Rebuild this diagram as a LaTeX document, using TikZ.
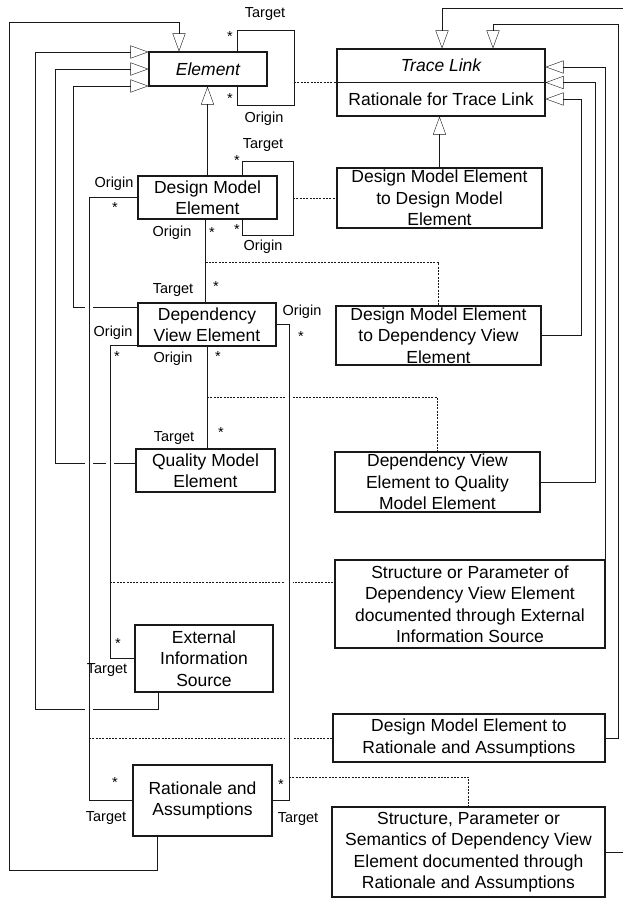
\documentclass[tikz,border=0pt]{standalone}
\usepackage{fontspec}
\setmainfont{Liberation Sans}
\usetikzlibrary{arrows.meta}
\pgfdeclarelayer{bg}
\pgfsetlayers{bg,main}

\begin{document}
\begin{tikzpicture}[x=1pt, y=-1pt,
  line width=1.1pt,
  box/.style={draw=black!90, rectangle, inner sep=0pt, align=center,
    font=\fontsize{17.5pt}{21.5pt}\selectfont},
  lab/.style={inner sep=0pt, font=\fontsize{14.5pt}{16pt}\selectfont},
  mult/.style={inner sep=0pt, anchor=base, font=\fontsize{14.5pt}{16pt}\selectfont},
  gen/.style={draw=black!90, -{Triangle[open, length=18pt, width=13pt]}},
  conn/.style={draw=black!90},
  dot/.style={draw=black!90, line width=0.8pt, dash pattern=on 2pt off 1.3pt},
  over/.style={draw=black!90, preaction={draw=white, line width=8pt}},
]
\useasboundingbox (0,0) rectangle (623,899);
\clip (0,0) rectangle (623,899);

% ---------- classes ----------
\node[box, minimum width=118pt, minimum height=34pt] (el) at (208,69) {\itshape Element};
\node[box, minimum width=208pt, minimum height=67pt] (tl) at (441,82.5) {};
\draw[black!90] (tl.west) -- (tl.east);
\node[inner sep=0pt, font=\fontsize{17.5pt}{21.5pt}\selectfont\itshape] (tlname) at (441,65.5) {Trace Link};
\node[inner sep=0pt, font=\fontsize{17.5pt}{21.5pt}\selectfont] (tlattr) at (441,99.5) {Rationale for Trace Link};

\node[box, minimum width=139pt, minimum height=43pt] (dme) at (207.5,197.5) {Design Model\\Element};
\node[box, minimum width=205pt, minimum height=60pt] (dmdm) at (439.5,198) {Design Model Element\\to Design Model\\Element};
\node[box, minimum width=138pt, minimum height=43pt] (dve) at (207,324.5) {Dependency\\View Element};
\node[box, minimum width=205pt, minimum height=59pt] (dmdv) at (438.5,335.5) {Design Model Element\\to Dependency View\\Element};
\node[box, minimum width=139pt, minimum height=43pt] (qme) at (205.5,470.5) {Quality Model\\Element};
\node[box, minimum width=205pt, minimum height=60pt] (dvqm) at (437.5,482) {Dependency View\\Element to Quality\\Model Element};
\node[box, minimum width=270pt, minimum height=88pt] (sext) at (470,604) {Structure or Parameter of\\Dependency View Element\\documented through External\\Information Source};
\node[box, minimum width=138pt, minimum height=67pt] (ext) at (204,658.5) {External\\Information\\Source};
\node[box, minimum width=272pt, minimum height=48pt] (dmra) at (469,738) {Design Model Element to\\Rationale and Assumptions};
\node[box, minimum width=139pt, minimum height=71pt] (ra) at (202.5,800.5) {Rationale and\\Assumptions};
\node[box, minimum width=273pt, minimum height=90pt] (sra) at (468.5,852) {Structure, Parameter or\\Semantics of Dependency View\\Element documented through\\Rationale and Assumptions};

% ---------- role names and multiplicities ----------
\node[lab] (r1) at (265,14) {Target};
\node[mult] (m1) at (230,42) {*};
\node[mult] (m2) at (230,103) {*};
\node[lab] (r2) at (264,119) {Origin};
\node[lab] (r3) at (263,145) {Target};
\node[mult] (m3) at (237,165) {*};
\node[mult] (m4) at (237,234) {*};
\node[lab] (r4) at (263,247) {Origin};
\node[lab] (r5) at (114,184) {Origin};
\node[mult] (m5) at (115,212) {*};
\node[lab] (r6) at (172,233) {Origin};
\node[mult] (m6) at (212,237) {*};
\node[lab] (r7) at (173,290) {Target};
\node[mult] (m7) at (216,291) {*};
\node[lab] (r8) at (302,312) {Origin};
\node[mult] (m8) at (301,341) {*};
\node[lab] (r9) at (113,333) {Origin};
\node[mult] (m9) at (117,361) {*};
\node[lab] (r10) at (173,359) {Origin};
\node[mult] (m10) at (218,361) {*};
\node[lab] (r11) at (174,438) {Target};
\node[mult] (m11) at (221,437) {*};
\node[mult] (m12) at (118,648) {*};
\node[lab] (r12) at (107,670) {Target};
\node[mult] (m13) at (115,787) {*};
\node[lab] (r13) at (106,818) {Target};
\node[mult] (m14) at (281,789) {*};
\node[lab] (r14) at (298,819) {Target};

% ---------- connectors ----------
\begin{pgfonlayer}{bg}
\fill[white] (0,0) rectangle (623,899);

% generalisations into Element
\draw[gen] ([xshift=-45.5pt]ra.south) -- ++(0,34) -| (9,22) -| ([xshift=-29pt]el.north);
\draw[gen] ([xshift=-46pt]ext.south) -- ++(0,17) -| (35,52) -- (el.west |- 0,52);
\draw[gen] ([yshift=7.5pt]qme.west) -| (55,69) -- (el.west);
\draw[gen] (dve.west |- 0,307) -| (73,86) -- (el.west |- 0,86);
\draw[gen] (dme.north) -- (dme.north |- el.south);

% associations running down the left, drawn over the lines they cross
\draw[over] (dme.west) -| (89,800.5) -- (ra.west);
\draw[over] ([yshift=1pt]dve.south west) -| (110,658.5) -- (ext.west);

% association classes attached on the left
\draw[dot] (89,738) -- (dmra.west);
\draw[dot] (110,582) -- ([yshift=22pt]sext.west);
\draw[dot] (207,397) -| (dvqm.north);

% Dependency View Element to Rationale and Assumptions
\draw[over] (dve.east) -| (289,800.5) -- (ra.east);
\draw[dot] (289,777) -| (sra.north);

% straight associations
\draw[conn] (dme.south -| 205.5,0) -- (dve.north -| 205.5,0);
\draw[conn] (dve.south -| 207,0) -- (qme.north -| 207,0);
\draw[dot] (205.5,262) -| (dmdv.north);

% reflexive associations
\draw[conn] ([xshift=29pt]el.north) |- (294,30) -- (294,105) -| ([xshift=29pt]el.south);
\draw[dot] (294,82.5) -- (tl.west);
\draw[conn] ([xshift=34.5pt]dme.north) |- (293,161) -- (293,235) -| ([xshift=34.5pt]dme.south);
\draw[dot] (293,198) -- (dmdm.west);

% generalisations into Trace Link
\draw[gen] (dmdm.north) -- (dmdm.north |- tl.south);
\draw[gen] (dmdv.east) -| (581,99) -- ([yshift=-16.5pt]tl.east);
\draw[gen] (dvqm.east) -| (595,82.5) -- (tl.east);
\draw[gen] (sext.north east) |- ([yshift=15.5pt]tl.east);
\draw[gen] (dmra.east) -| (618,24) -| ([xshift=52pt]tl.north);
\draw[gen] (sra.east) -| (640,8) -| ([xshift=1pt]tl.north);
\end{pgfonlayer}
\end{tikzpicture}
\end{document}
